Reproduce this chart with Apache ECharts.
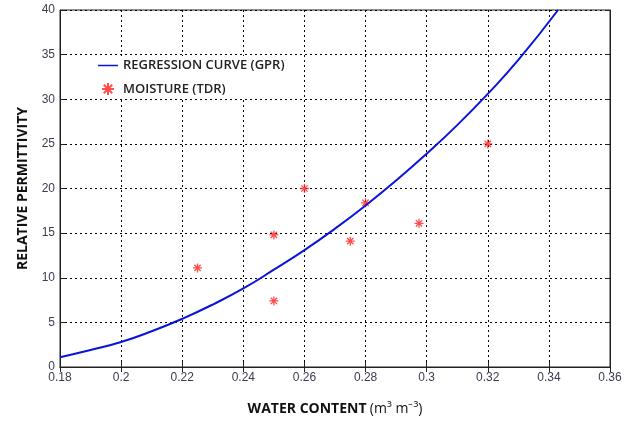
<!DOCTYPE html>
<html>
<head>
<meta charset="utf-8">
<script src="https://cdn.jsdelivr.net/npm/echarts@6/dist/echarts.min.js"></script>
<style>
  html, body { margin: 0; padding: 0; background: #fff; }
  #main { width: 635px; height: 421px; }
</style>
</head>
<body>
<div id="main"></div>
<script>
// regression curve (GPR)
var curveX = [0.18, 0.19, 0.20, 0.21, 0.22, 0.23, 0.24, 0.25, 0.26, 0.27, 0.28, 0.29, 0.30, 0.31, 0.32, 0.33, 0.343];
var curveY = [1.1, 1.9, 2.8, 4.0, 5.4, 7.0, 8.8, 10.9, 13.1, 15.5, 18.1, 20.9, 23.9, 27.1, 30.6, 34.4, 40.0];

// TDR moisture points
var tdrX = [0.225, 0.25, 0.25, 0.26, 0.275, 0.28, 0.2975, 0.32];
var tdrY = [11.1, 14.8, 7.4, 20.0, 14.1, 18.4, 16.1, 25.0];

var xTicks = [0.18, 0.36, 0.02];
var yTicks = [0, 40, 5];

var chart = echarts.init(document.getElementById('main'));

var grid = { color: '#000', type: [2, 3], width: 1 };
var labelColor = '#3b3b52';
var star = 'path://M0 -5 L0 5 M-5 0 L5 0 M-3.5 -3.5 L3.5 3.5 M-3.5 3.5 L3.5 -3.5';

var option = {
  backgroundColor: '#fff',
  animation: false,
  grid: {
    left: 60, right: 25, top: 10, bottom: 54,
    show: true, borderColor: '#222', borderWidth: 1
  },
  legend: {
    left: 92, top: 56,
    orient: 'vertical',
    itemGap: 10,
    itemWidth: 20, itemHeight: 12,
    backgroundColor: '#fff',
    padding: [3, 6, 3, 6],
    textStyle: { fontFamily: 'Open Sans', fontSize: 13, fontWeight: 600, color: '#222' },
    data: [
      { name: 'REGRESSION CURVE (GPR)', icon: 'path://M0 5 L20 5 L20 6.5 L0 6.5 Z' },
      { name: 'MOISTURE (TDR)' }
    ]
  },
  xAxis: [{
    type: 'value',
    min: xTicks[0], max: xTicks[1], interval: xTicks[2],
    name: '{b|WATER CONTENT} {n|(m³ m⁻³)}',
    nameLocation: 'middle', nameGap: 35,
    nameTextStyle: {
      rich: {
        b: { fontFamily: 'Open Sans', fontSize: 14, fontWeight: 'bold', color: '#111' },
        n: { fontFamily: 'Open Sans', fontSize: 14, color: '#111' }
      }
    },
    axisLine: { show: true, lineStyle: { color: '#222' } },
    axisTick: { show: true, inside: true, length: 5, lineStyle: { color: '#222' } },
    axisLabel: {
      color: labelColor, fontFamily: 'Arial', fontSize: 12, margin: 5,
      formatter: function (v) { return String(+v.toFixed(2)); }
    },
    splitLine: { show: true, lineStyle: grid }
  }, {
    type: 'value', position: 'top',
    min: xTicks[0], max: xTicks[1], interval: xTicks[2],
    axisLine: { show: true, lineStyle: { color: '#222' } },
    axisTick: { show: true, inside: true, length: 5, lineStyle: { color: '#222' } },
    axisLabel: { show: false },
    splitLine: { show: false }
  }],
  yAxis: [{
    type: 'value',
    min: yTicks[0], max: yTicks[1], interval: yTicks[2],
    name: 'RELATIVE PERMITTIVITY',
    nameLocation: 'middle', nameGap: 30,
    nameTextStyle: { fontFamily: 'Open Sans', fontSize: 14, fontWeight: 'bold', color: '#111' },
    axisLine: { show: true, lineStyle: { color: '#222' } },
    axisTick: { show: true, inside: true, length: 5, lineStyle: { color: '#222' } },
    axisLabel: { color: labelColor, fontFamily: 'Arial', fontSize: 12, margin: 5 },
    splitLine: { show: true, lineStyle: grid }
  }, {
    type: 'value', position: 'right',
    min: yTicks[0], max: yTicks[1], interval: yTicks[2],
    axisLine: { show: true, lineStyle: { color: '#222' } },
    axisTick: { show: true, inside: true, length: 5, lineStyle: { color: '#222' } },
    axisLabel: { show: false },
    splitLine: { show: false }
  }],
  series: [{
    name: 'REGRESSION CURVE (GPR)',
    type: 'line',
    smooth: true,
    showSymbol: false,
    clip: true,
    color: '#0a14d8',
    lineStyle: { width: 2, color: '#0a14d8' },
    data: curveX.map(function (x, i) { return [x, curveY[i]]; })
  }, {
    name: 'MOISTURE (TDR)',
    type: 'scatter',
    symbol: star,
    symbolSize: 9,
    color: '#ff2020',
    itemStyle: { color: '#ff2020', borderColor: '#ff2020', borderWidth: 1.3 },
    data: tdrX.map(function (x, i) { return [x, tdrY[i]]; })
  }]
};

chart.setOption(option);
</script>
</body>
</html>
